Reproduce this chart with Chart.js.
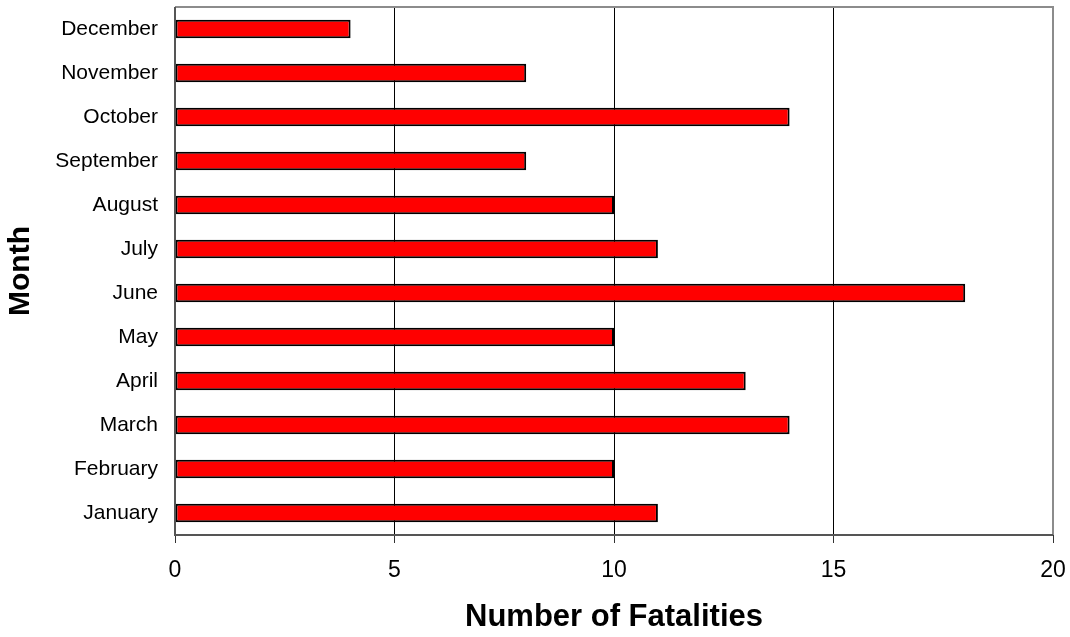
<!DOCTYPE html>
<html>
<head>
<meta charset="utf-8">
<script src="https://cdn.jsdelivr.net/npm/chart.js@4"></script>
<style>
  html, body { margin: 0; padding: 0; background: #fff; }
  #wrap { width: 1070px; height: 637px; }
</style>
</head>
<body>
<div id="wrap"><canvas id="chart" width="1070" height="637"></canvas></div>
<script>
const months = ['January', 'February', 'March', 'April', 'May', 'June',
    'July', 'August', 'September', 'October', 'November', 'December'];
const fatalities = [11, 10, 14, 13, 10, 18, 11, 10, 8, 14, 8, 4];
const xTicks = [0, 5, 10, 15, 20];

// grey frame round the plot area
const frame = {
    id: 'frame',
    afterDraw(chart) {
        const a = chart.chartArea;
        const ctx = chart.ctx;
        ctx.save();
        ctx.strokeStyle = '#8c8c8c';
        ctx.lineWidth = 2;
        ctx.beginPath();
        ctx.moveTo(a.left, a.top);
        ctx.lineTo(a.right, a.top);
        ctx.lineTo(a.right, a.bottom);
        ctx.stroke();
        ctx.strokeStyle = '#555';
        ctx.beginPath();
        ctx.moveTo(a.left, a.top);
        ctx.lineTo(a.left, a.bottom);
        ctx.lineTo(a.right, a.bottom);
        ctx.stroke();
        ctx.restore();
    }
};

const ctx = document.getElementById('chart').getContext('2d');
new Chart(ctx, {
    type: 'bar',
    data: {
        labels: months,
        datasets: [{
            label: 'Fatalities',
            data: fatalities,
            backgroundColor: '#ff0000',
            borderColor: '#000',
            borderWidth: 2,
            borderSkipped: false,
            barPercentage: 0.42,
            categoryPercentage: 1
        }]
    },
    options: {
        indexAxis: 'y',
        responsive: false,
        animation: false,
        layout: { padding: { top: 7, right: 17, left: 0, bottom: 0 } },
        plugins: {
            legend: { display: false },
            tooltip: { enabled: false }
        },
        scales: {
            x: {
                min: xTicks[0],
                max: xTicks[xTicks.length - 1],
                afterBuildTicks: (s) => { s.ticks = xTicks.map(v => ({ value: v })); },
                afterFit: (s) => { s.height = 102; s.paddingLeft = 0; s.paddingRight = 0; },
                grid: { color: '#000', lineWidth: 1, drawTicks: true, tickLength: 8, tickColor: '#333' },
                border: { display: false },
                ticks: {
                    color: '#000',
                    padding: 14,
                    maxRotation: 0,
                    font: { family: 'Liberation Sans, Arial', size: 23 }
                },
                title: {
                    display: true,
                    text: 'Number of Fatalities',
                    color: '#000',
                    padding: { top: 12, bottom: 1 },
                    font: { family: 'Liberation Sans, Arial', size: 31, weight: 'bold' }
                }
            },
            y: {
                reverse: true,
                afterFit: (s) => { s.width = 175; s.paddingTop = 0; s.paddingBottom = 0; },
                grid: { display: false, drawTicks: false, tickLength: 0 },
                border: { display: false },
                ticks: {
                    color: '#000',
                    padding: 17,
                    font: { family: 'Liberation Sans, Arial', size: 21 }
                },
                title: {
                    display: true,
                    text: 'Month',
                    color: '#000',
                    padding: { top: 3, bottom: 0 },
                    font: { family: 'Liberation Sans, Arial', size: 30, weight: 'bold' }
                }
            }
        }
    },
    plugins: [frame]
});
</script>
</body>
</html>
